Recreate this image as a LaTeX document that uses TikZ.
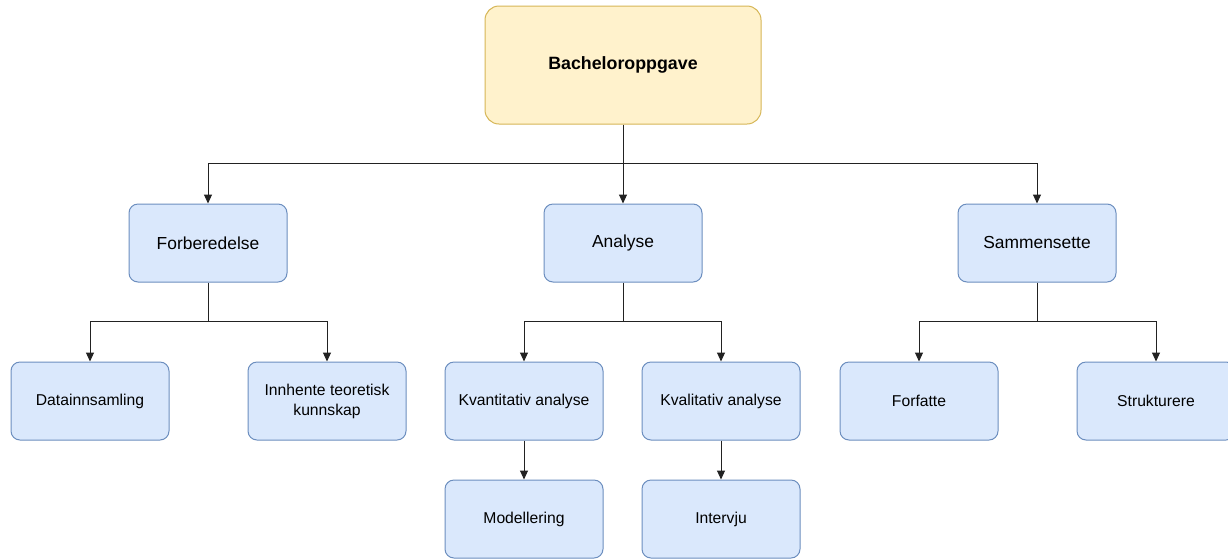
\documentclass[tikz,border=0pt]{standalone}
\usepackage{fontspec}
\setmainfont{Liberation Sans}
\usetikzlibrary{arrows.meta}
\definecolor{bluefill}{HTML}{DAE8FC}
\definecolor{bluedraw}{HTML}{6C8EBF}
\definecolor{yellowfill}{HTML}{FFF2CC}
\definecolor{yellowdraw}{HTML}{D6B656}
\definecolor{linecol}{HTML}{222222}
\tikzset{
  task/.style={draw=bluedraw, fill=bluefill, line width=1pt, rounded corners=9pt,
    minimum width=158pt, minimum height=78pt, inner sep=0pt, align=center,
    font=\fontsize{15.7}{20}\selectfont, text=black},
  phase/.style={task, font=\fontsize{17.4}{21}\selectfont},
  root/.style={draw=yellowdraw, fill=yellowfill, line width=1pt, rounded corners=14pt,
    minimum width=276pt, minimum height=118pt, inner sep=0pt, align=center,
    font=\fontsize{17.8}{21}\selectfont\bfseries, text=black},
  conn/.style={draw=linecol, line width=1pt, -{Stealth[length=9pt,width=8pt,inset=0pt]}},
  plain/.style={draw=linecol, line width=1pt}
}
\begin{document}
\begin{tikzpicture}[x=1pt,y=-1pt]
\clip (0,0) rectangle (1228,558);
\fill[white] (0,0) rectangle (1228,558);

% root
\node[root] (top) at (623,65) {Bacheloroppgave};

% phases
\node[phase] (forb) at (208,243) {Forberedelse};
\node[phase] (ana)  at (623,243) {Analyse};
\node[phase] (samm) at (1037,243) {Sammensette};

% sub-tasks
\node[task] (data) at (90,401)  {Datainnsamling};
\node[task] (innh) at (327,401) {Innhente teoretisk\\kunnskap};
\node[task] (kvan) at (524,401) {Kvantitativ analyse};
\node[task] (kval) at (721,401) {Kvalitativ analyse};
\node[task] (forf) at (919,401) {Forfatte};
\node[task] (stru) at (1156,401) {Strukturere};

% methods
\node[task] (mod) at (524,519) {Modellering};
\node[task] (int) at (721,519) {Intervju};

% junction points of the orthogonal connectors
\coordinate (j0) at (623,163);
\coordinate (j1) at (208,321);
\coordinate (j2) at (623,321);
\coordinate (j3) at (1037,321);

% root to phases
\draw[plain] (top.south) -- (j0);
\draw[conn] (j0) -| (forb.north);
\draw[conn] (j0) -- (ana.north);
\draw[conn] (j0) -| (samm.north);

% phases to sub-tasks
\draw[plain] (forb.south) -- (j1);
\draw[conn] (j1) -| (data.north);
\draw[conn] (j1) -| (innh.north);
\draw[plain] (ana.south) -- (j2);
\draw[conn] (j2) -| (kvan.north);
\draw[conn] (j2) -| (kval.north);
\draw[plain] (samm.south) -- (j3);
\draw[conn] (j3) -| (forf.north);
\draw[conn] (j3) -| (stru.north);

% sub-tasks to methods
\draw[conn] (kvan.south) -- (mod.north);
\draw[conn] (kval.south) -- (int.north);
\end{tikzpicture}
\end{document}
